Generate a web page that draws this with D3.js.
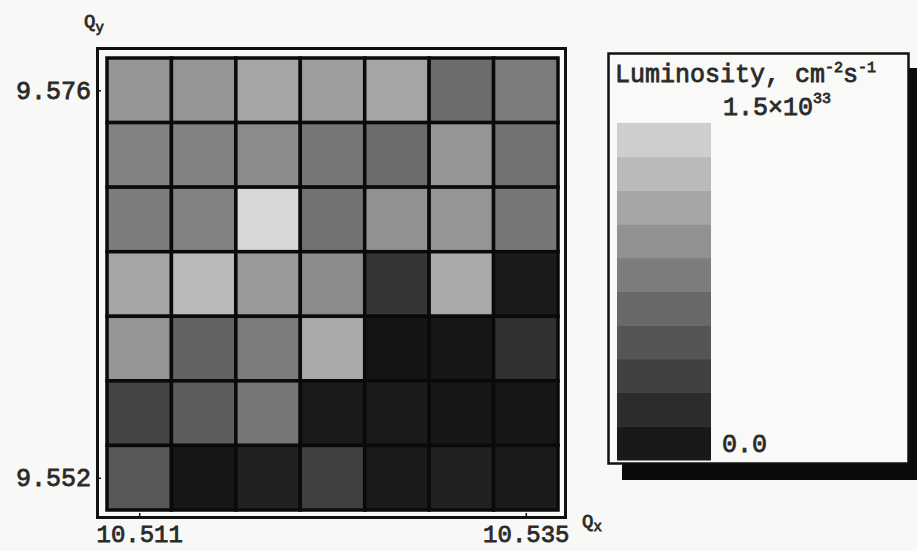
<!DOCTYPE html>
<html lang="en">
<head>
	<meta charset="UTF-8">
	<title>Luminosity scan</title>
	<script src="https://cdn.jsdelivr.net/npm/d3@7"></script>
	<style>
		html,body{
			margin:0;
			padding:0;
			background:#f8f8f6;
		}
		svg{
			display:block;
		}
		text{
			font-family:"Liberation Mono","DejaVu Sans Mono",monospace;
			fill:#2a2a2a;
			stroke:#2a2a2a;
			stroke-width:0.8;
		}
	</style>
</head>
<body>
	<svg id="svg" width="917" height="551"></svg>
	<script>
		// cell centres on the tune diagram
		var qx = [10.511, 10.515, 10.519, 10.523, 10.527, 10.531, 10.535];
		var qy = [9.576, 9.572, 9.568, 9.564, 9.560, 9.556, 9.552];   // top row first
		var xTicks = [10.511, 10.535];
		var yTicks = [9.552, 9.576];

		// luminosity, units of 1e33 cm^-2 s^-1, rows from top (Qy=9.576) to bottom
		var lum = [
			[1.00, 1.00, 1.12, 1.06, 1.12, 0.70, 0.82],
			[0.86, 0.86, 0.93, 0.78, 0.70, 1.00, 0.74],
			[0.82, 0.86, 1.49, 0.74, 0.97, 1.00, 0.78],
			[1.12, 1.27, 1.04, 0.93, 0.29, 1.15, 0.10],
			[1.00, 0.63, 0.82, 1.15, 0.05, 0.07, 0.25],
			[0.40, 0.59, 0.78, 0.09, 0.10, 0.07, 0.07],
			[0.55, 0.07, 0.14, 0.37, 0.10, 0.14, 0.10]
		];
		var lumMax = 1.5;
		var nSteps = 10;

		var svg = d3.select("svg");
		var half = 0.002;

		var x = d3.scaleLinear().domain([qx[0] - half, qx[6] + half]).range([107, 558]);
		var y = d3.scaleLinear().domain([qy[6] - half, qy[0] + half]).range([510, 58]);
		var color = d3.scaleLinear().domain([0, lumMax]).range(["#0e0e0e", "#d8d8d8"]);

		// outer frame
		svg.append("rect")
			.attr("x", 97.5).attr("y", 48.5)
			.attr("width", 468).attr("height", 469)
			.attr("fill", "none").attr("stroke", "#111").attr("stroke-width", 3);

		var cells = [];
		lum.forEach((row, j) => {
			row.forEach((v, i) => {
				cells.push({qx: qx[i], qy: qy[j], v: v});
			});
		});

		svg.append("g").selectAll("rect")
			.data(cells)
			.enter().append("rect")
			.attr("x", d => x(d.qx - half))
			.attr("y", d => y(d.qy + half))
			.attr("width", d => x(d.qx + half) - x(d.qx - half))
			.attr("height", d => y(d.qy - half) - y(d.qy + half))
			.attr("fill", d => color(d.v))
			.attr("stroke", "#0a0a0a")
			.attr("stroke-width", 3.5);

		var fmt = d3.format(".3f");

		svg.append("g")
			.attr("transform", "translate(0,518)")
			.call(d3.axisBottom(x).tickValues(xTicks).tickFormat(fmt).tickSize(-5).tickPadding(7))
			.call(g => g.select(".domain").remove())
			.call(g => g.selectAll("line").attr("stroke", "#111").attr("stroke-width", 1.5))
			.call(g => g.selectAll("text").attr("font-size", 24).attr("fill", "#2a2a2a"))
			.attr("font-family", null);

		svg.append("g")
			.attr("transform", "translate(97,0)")
			.call(d3.axisLeft(y).tickValues(yTicks).tickFormat(fmt).tickSize(-4).tickPadding(6))
			.call(g => g.select(".domain").remove())
			.call(g => g.selectAll("line").attr("stroke", "#111").attr("stroke-width", 1.5))
			.call(g => g.selectAll("text").attr("font-size", 25).attr("fill", "#2a2a2a"))
			.attr("font-family", null);

		// axis names
		var qyLabel = svg.append("text").attr("x", 84).attr("y", 27).attr("font-size", 19);
		qyLabel.append("tspan").text("Q");
		qyLabel.append("tspan").attr("font-size", 14).attr("dy", 5).text("y");

		var qxLabel = svg.append("text").attr("x", 582).attr("y", 527).attr("font-size", 19);
		qxLabel.append("tspan").text("Q");
		qxLabel.append("tspan").attr("font-size", 14).attr("dy", 4).text("x");

		// legend box with drop shadow
		var lg = svg.append("g");
		lg.append("rect")
			.attr("x", 622).attr("y", 68)
			.attr("width", 310).attr("height", 412)
			.attr("fill", "#0a0a0a");
		lg.append("rect")
			.attr("x", 608.5).attr("y", 53.5)
			.attr("width", 300).attr("height", 410)
			.attr("fill", "#f9f9f8").attr("stroke", "#111").attr("stroke-width", 2.5);

		var title = lg.append("text").attr("x", 615).attr("y", 82).attr("font-size", 25);
		title.append("tspan").text("Luminosity, cm");
		title.append("tspan").attr("font-size", 15).attr("dy", -10).text("-2");
		title.append("tspan").attr("dy", 10).text("s");
		title.append("tspan").attr("font-size", 15).attr("dy", -10).text("-1");

		var maxLabel = lg.append("text").attr("x", 723).attr("y", 115).attr("font-size", 25);
		maxLabel.append("tspan").text("1.5×10");
		maxLabel.append("tspan").attr("font-size", 15).attr("dy", -12).text("33");

		lg.append("text").attr("x", 722).attr("y", 452).attr("font-size", 25).text("0.0");

		var ly = d3.scaleLinear().domain([0, lumMax]).range([460, 123]);
		var bands = d3.range(nSteps).map(i => ({lo: i * lumMax / nSteps, hi: (i + 1) * lumMax / nSteps}));
		lg.append("g").selectAll("rect")
			.data(bands)
			.enter().append("rect")
			.attr("x", 617)
			.attr("y", d => ly(d.hi))
			.attr("width", 94)
			.attr("height", d => ly(d.lo) - ly(d.hi) + 0.5)
			.attr("fill", d => color((d.lo + d.hi) / 2));
	</script>
</body>
</html>
